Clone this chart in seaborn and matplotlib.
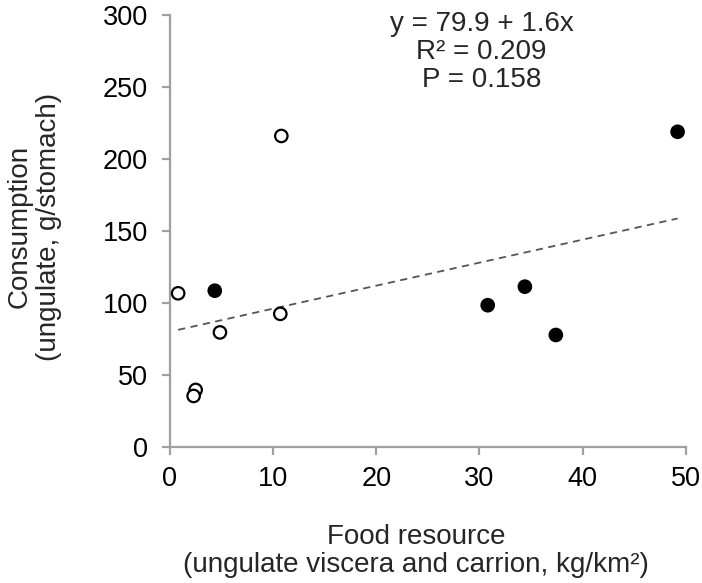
import numpy as np
import pandas as pd
import matplotlib
matplotlib.use("Agg")
import matplotlib.pyplot as plt
import seaborn as sns

# data
x_open = [0.8, 2.5, 2.3, 4.85, 10.7, 10.8]
y_open = [106.6, 39.4, 35.2, 79.4, 92.3, 216.0]
x_filled = [4.35, 30.8, 34.4, 37.4, 49.2]
y_filled = [108.4, 98.3, 111.2, 77.6, 218.9]

intercept = 79.9
slope = 1.6
r2 = 0.209
p_val = 0.158

sns.set_theme(style="white")
plt.rcParams['font.family'] = ['Liberation Sans', 'DejaVu Sans']

df = pd.DataFrame({
    'x': x_open + x_filled,
    'y': y_open + y_filled,
    'group': ['open'] * len(x_open) + ['filled'] * len(x_filled),
})

fs = 20

fig = plt.figure(figsize=(7.02, 5.83), dpi=100)
ax = fig.add_axes([0.242, 0.234, 0.735, 0.74])

sns.scatterplot(data=df, x='x', y='y', hue='group',
                palette={'open': 'white', 'filled': 'black'},
                edgecolor='black', linewidth=1.6, s=80, legend=False, ax=ax, zorder=3)

# trend line across the data range
x_fit = np.array([df['x'].min(), df['x'].max()])
y_fit = intercept + slope * x_fit
ax.plot(x_fit, y_fit, linestyle=(0, (4, 3)), color='#555555', lw=1.3, zorder=2)

ax.set_xlim(0, 50)
ax.set_ylim(0, 300)
ax.set_xticks(range(0, 51, 10))
ax.set_yticks(range(0, 301, 50))

for side in ['top', 'right']:
    ax.spines[side].set_visible(False)
for side in ['left', 'bottom']:
    ax.spines[side].set_color('#a0a0a0')
    ax.spines[side].set_linewidth(1.6)
ax.tick_params(axis='both', direction='out', length=6, width=1.6, color='#a0a0a0',
               labelsize=19.5, labelcolor='black')
ax.tick_params(axis='y', pad=10, left=True)
ax.tick_params(axis='x', pad=8, bottom=True)

ax.set_xlabel("Food resource\n(ungulate viscera and carrion, kg/km²)", fontsize=fs,
              linespacing=1.1)
ax.xaxis.set_label_coords(0.477, -0.180)
ax.set_ylabel("Consumption\n(ungulate, g/stomach)", fontsize=fs, linespacing=1.15)
ax.yaxis.set_label_coords(-0.209, 0.51)

ax.text(30.2, 274.5, f"y = {intercept} + {slope}x\nR² = {r2}\nP = {p_val}",
        ha='center', va='center', fontsize=fs, linespacing=1.1)

fig.savefig("out.png", dpi=100)
